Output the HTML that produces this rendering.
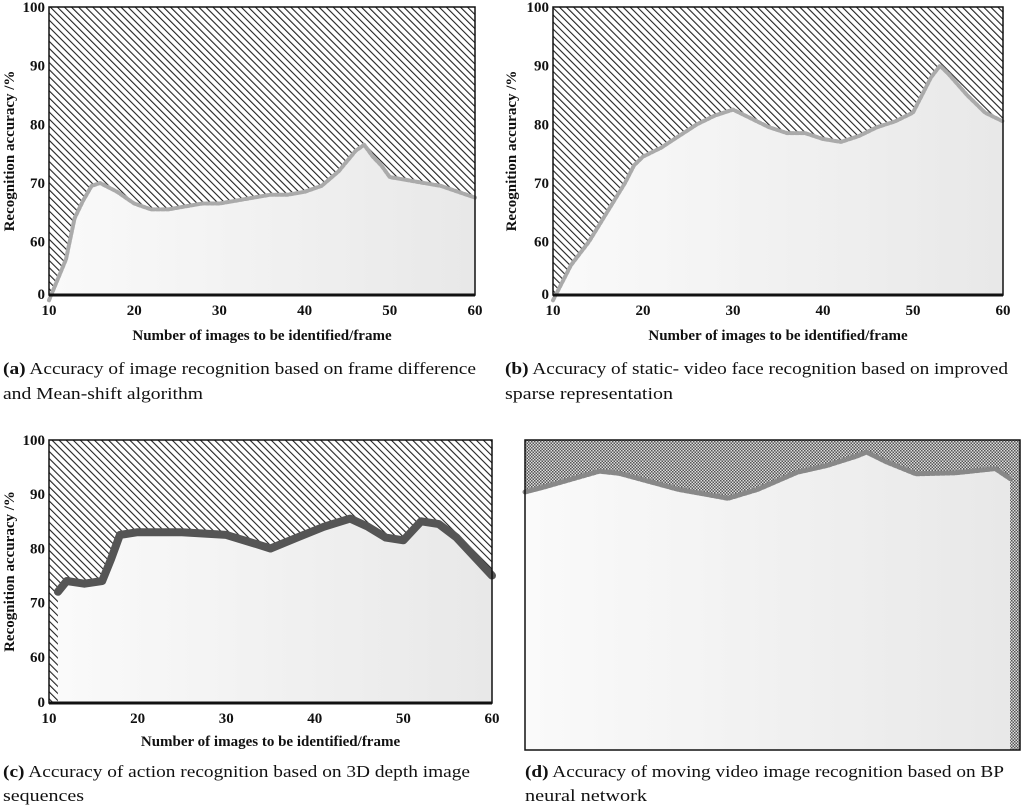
<!DOCTYPE html>
<html><head><meta charset="utf-8"><style>
body{margin:0;background:#fff;width:1022px;height:805px;overflow:hidden}
svg{display:block;font-family:"Liberation Serif",serif}
.cap{font-size:17px;fill:#111}
.tk{font-size:15px;font-weight:bold;fill:#111}
</style></head><body>
<svg id="s" width="1022" height="805">
<defs>
<pattern id="hatch" width="5" height="5" patternUnits="userSpaceOnUse" patternTransform="rotate(-45)">
<rect width="5" height="5" fill="#fff"/><line x1="0" y1="0" x2="0" y2="5" stroke="#222" stroke-width="2.2"/></pattern>
<pattern id="check" width="3" height="3" patternUnits="userSpaceOnUse">
<rect width="3" height="3" fill="#ddd"/><rect width="1.5" height="1.5" fill="#555"/><rect x="1.5" y="1.5" width="1.5" height="1.5" fill="#555"/></pattern>
<linearGradient id="g" x1="0" x2="1"><stop offset="0" stop-color="#fafafa"/><stop offset="1" stop-color="#e8e8e8"/></linearGradient>
</defs>
<g id="root"></g>
<text class="cap" x="3" y="374" textLength="473" lengthAdjust="spacingAndGlyphs"><tspan font-weight="bold">(a)</tspan> Accuracy of image recognition based on frame difference</text>
<text class="cap" x="3" y="399" textLength="200" lengthAdjust="spacingAndGlyphs">and Mean-shift algorithm</text>
<text class="cap" x="505" y="374" textLength="503" lengthAdjust="spacingAndGlyphs"><tspan font-weight="bold">(b)</tspan> Accuracy of static- video face recognition based on improved</text>
<text class="cap" x="505" y="399" textLength="168" lengthAdjust="spacingAndGlyphs">sparse representation</text>
<text class="cap" x="3" y="777" textLength="467" lengthAdjust="spacingAndGlyphs"><tspan font-weight="bold">(c)</tspan> Accuracy of action recognition based on 3D depth image</text>
<text class="cap" x="3" y="801" textLength="81" lengthAdjust="spacingAndGlyphs">sequences</text>
<text class="cap" x="525" y="777" textLength="479" lengthAdjust="spacingAndGlyphs"><tspan font-weight="bold">(d)</tspan> Accuracy of moving video image recognition based on BP</text>
<text class="cap" x="525" y="801" textLength="122" lengthAdjust="spacingAndGlyphs">neural network</text>
</svg>
<script>
const aX=[10,12,13,14,15,16,18,20,22,24,26,28,30,32,34,36,38,40,42,44,46,47,48,49,50,52,54,56,58,60];
const aY=[50,57,64,67,69.5,70,68.5,66.5,65.5,65.5,66,66.5,66.5,67,67.5,68,68,68.5,69.5,72,75.5,76.5,74.5,73,71,70.5,70,69.5,68.5,67.5];
const bX=[10,12,14,16,18,19,20,22,24,26,28,30,32,34,36,38,40,42,44,46,48,50,52,53,54,56,58,60];
const bY=[50,56,60,65,70,73,74.5,76,78,80,81.5,82.5,81,79.5,78.5,78.5,77.5,77,78,79.5,80.5,82,88,90,88.5,85,82,80.5];
const cX=[11,12,14,16,17,18,20,25,30,33,35,38,41,44,46,48,50,52,54,56,58,60];
const cY=[72,74,73.5,74,78,82.5,83,83,82.5,81,80,82,84,85.5,84,82,81.5,85,84.5,82,78.5,75];
const dX=[0,4,15,19,31,41,47,55,61,67,69,73,79,87,95,98];
const dY=[90,91,94,93.6,90.5,88.8,90.5,93.8,95.1,96.9,97.7,95.8,93.5,93.7,94.5,92.6];
const yTicks=[60,70,80,90,100];
const xTicks=[10,20,30,40,50,60];
const NS='http://www.w3.org/2000/svg';
const root=document.getElementById('root');
function mk(t,a,p){const e=document.createElementNS(NS,t);for(const k in a)e.setAttribute(k,a[k]);(p||root).appendChild(e);return e;}
function panel(id,L,R,T,B,xmin,xmax,ymin,ymax,xs,ys,opt){
  const g=mk('g',{});
  
  
  const sx=v=>L+(v-xmin)/(xmax-xmin)*(R-L);
  const sy=v=>B-(v-ymin)/(ymax-ymin)*(B-T);
  const bg=mk('rect',{x:L,y:T,width:R-L,height:B-T,fill:opt.pat},g);
  
  
  let d='M'+sx(xs[0])+','+B;
  xs.forEach((x,i)=>{d+=' L'+sx(x).toFixed(1)+','+sy(ys[i]).toFixed(1);});
  d+=' L'+sx(xs[xs.length-1])+','+B+' Z';
  const ar=mk('path',{d:d,fill:'url(#g)'},g);
  
  
  let ld='';xs.forEach((x,i)=>{ld+=(i?' L':'M')+sx(x).toFixed(1)+','+sy(ys[i]).toFixed(1);});
  const ln=mk('path',{d:ld,fill:'none',stroke:opt.lc,'stroke-width':opt.lw,'stroke-linejoin':'round','stroke-linecap':'round','stroke-dasharray':opt.dash||'none'},g);
  
  
  const fr=mk('rect',{x:L,y:T,width:R-L,height:B-T,fill:'none',stroke:'#111','stroke-width':1.5},g);
  
  
  if(opt.axes){
    mk('line',{x1:L,y1:B,x2:R,y2:B,stroke:'#111','stroke-width':3},g);
    yTicks.forEach(v=>{const t=mk('text',{x:L-4,y:sy(v)+5,'text-anchor':'end',class:'tk'},g);t.textContent=v;
      });
    const z=mk('text',{x:L-4,y:B+4,'text-anchor':'end',class:'tk'},g);z.textContent='0';
    
    xTicks.forEach(v=>{const t=mk('text',{x:sx(v),y:B+20,'text-anchor':'middle',class:'tk'},g);t.textContent=v;
      });
    const xt=mk('text',{x:(L+R)/2,y:opt.xty,'text-anchor':'middle',class:'tk'},g);xt.textContent='Number of images to be identified/frame';
    
    const cy=(T+B)/2;
    const yt=mk('text',{x:opt.ytx,y:cy,'text-anchor':'middle',class:'tk',transform:'rotate(-90 '+opt.ytx+' '+cy+')'},g);yt.textContent='Recognition accuracy /%';
    
  }
}
panel('a',49,475,7,295,10,60,50.9,100,aX,aY,{pat:'url(#hatch)',lc:'#aaa',lw:4,dash:'3 2',axes:true,xty:340,ytx:14});
panel('b',553,1003,7,295,10,60,50.9,100,bX,bY,{pat:'url(#hatch)',lc:'#aaa',lw:4,dash:'3 2',axes:true,xty:340,ytx:516});
panel('c',49,492,440,703,10,60,51.5,100,cX,cY,{pat:'url(#hatch)',lc:'#555',lw:8,axes:true,xty:746,ytx:14});
panel('d',525,1020,440,750,0,100,40.4,100,dX,dY,{pat:'url(#check)',lc:'#888',lw:5,dash:'3 2',axes:false});
</script>
</body></html>
